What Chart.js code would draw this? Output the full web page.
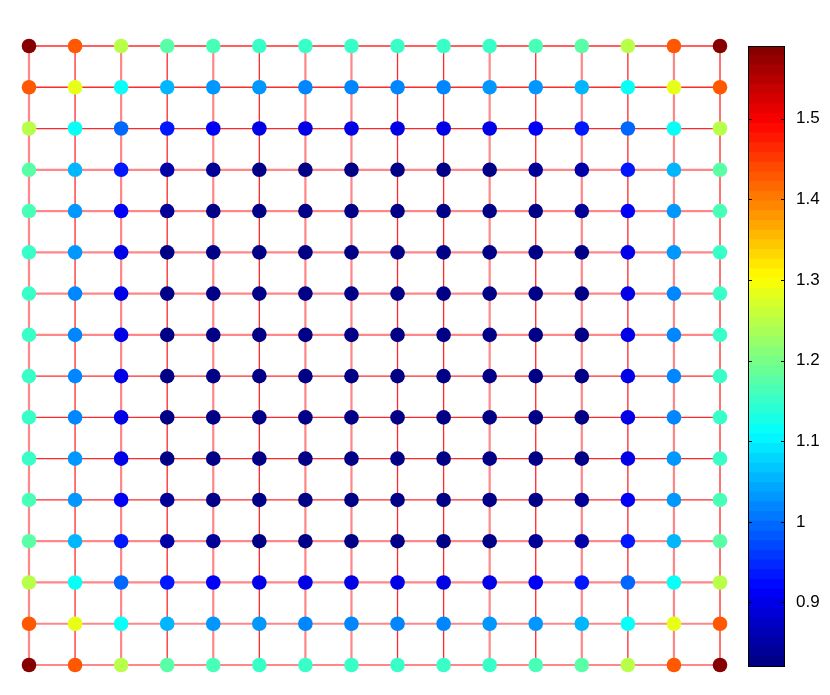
<!DOCTYPE html>
<html>
<head>
<meta charset="utf-8">
<script src="https://cdn.jsdelivr.net/npm/chart.js@4"></script>
<style>
  body { margin: 0; background: #fff; }
  #wrap { position: relative; width: 830px; height: 695px; }
  #gridBox { position: absolute; left: 0; top: 0; width: 740px; height: 695px; }
  #barBox { position: absolute; left: 700px; top: 0; width: 130px; height: 695px; }
</style>
</head>
<body>
<div id="wrap">
  <div id="gridBox"><canvas id="grid"></canvas></div>
  <div id="barBox"><canvas id="cbar"></canvas></div>
</div>
<script>
// values at each node of the 16x16 mesh, one row per array (top row first)
const row00 = [1.58, 1.43, 1.25, 1.17, 1.16, 1.15, 1.145, 1.145, 1.145, 1.145, 1.15, 1.16, 1.17, 1.25, 1.43, 1.58];
const row01 = [1.43, 1.28, 1.12, 1.05, 1.035, 1.025, 1.02, 1.02, 1.02, 1.02, 1.025, 1.035, 1.05, 1.12, 1.28, 1.43];
const row02 = [1.25, 1.12, 0.99, 0.93, 0.905, 0.90, 0.895, 0.895, 0.895, 0.895, 0.90, 0.905, 0.93, 0.99, 1.12, 1.25];
const row03 = [1.17, 1.05, 0.93, 0.855, 0.835, 0.828, 0.826, 0.826, 0.826, 0.826, 0.828, 0.835, 0.855, 0.93, 1.05, 1.17];
const row04 = [1.16, 1.035, 0.905, 0.835, 0.826, 0.824, 0.823, 0.823, 0.823, 0.823, 0.824, 0.826, 0.835, 0.905, 1.035, 1.16];
const row05 = [1.15, 1.025, 0.90, 0.828, 0.824, 0.823, 0.822, 0.822, 0.822, 0.822, 0.823, 0.824, 0.828, 0.90, 1.025, 1.15];
const row06 = [1.145, 1.02, 0.895, 0.826, 0.823, 0.822, 0.822, 0.822, 0.822, 0.822, 0.822, 0.823, 0.826, 0.895, 1.02, 1.145];
const row07 = [1.145, 1.02, 0.895, 0.826, 0.823, 0.822, 0.822, 0.822, 0.822, 0.822, 0.822, 0.823, 0.826, 0.895, 1.02, 1.145];
const row08 = [1.145, 1.02, 0.895, 0.826, 0.823, 0.822, 0.822, 0.822, 0.822, 0.822, 0.822, 0.823, 0.826, 0.895, 1.02, 1.145];
const row09 = [1.145, 1.02, 0.895, 0.826, 0.823, 0.822, 0.822, 0.822, 0.822, 0.822, 0.822, 0.823, 0.826, 0.895, 1.02, 1.145];
const row10 = [1.15, 1.025, 0.90, 0.828, 0.824, 0.823, 0.822, 0.822, 0.822, 0.822, 0.823, 0.824, 0.828, 0.90, 1.025, 1.15];
const row11 = [1.16, 1.035, 0.905, 0.835, 0.826, 0.824, 0.823, 0.823, 0.823, 0.823, 0.824, 0.826, 0.835, 0.905, 1.035, 1.16];
const row12 = [1.17, 1.05, 0.93, 0.855, 0.835, 0.828, 0.826, 0.826, 0.826, 0.826, 0.828, 0.835, 0.855, 0.93, 1.05, 1.17];
const row13 = [1.25, 1.12, 0.99, 0.93, 0.905, 0.90, 0.895, 0.895, 0.895, 0.895, 0.90, 0.905, 0.93, 0.99, 1.12, 1.25];
const row14 = [1.43, 1.28, 1.12, 1.05, 1.035, 1.025, 1.02, 1.02, 1.02, 1.02, 1.025, 1.035, 1.05, 1.12, 1.28, 1.43];
const row15 = [1.58, 1.43, 1.25, 1.17, 1.16, 1.15, 1.145, 1.145, 1.145, 1.145, 1.15, 1.16, 1.17, 1.25, 1.43, 1.58];

const colorMin = 0.82;
const colorMax = 1.59;
const colorTicks = [0.9, 1, 1.1, 1.2, 1.3, 1.4, 1.5];

const rows = [row00, row01, row02, row03, row04, row05, row06, row07,
              row08, row09, row10, row11, row12, row13, row14, row15];

// mesh line look: strong red or faint pink
const rowLook = 'rrrppppprrrrpppp';
const colLook = 'prprprpprrprprpr';

// matlab style jet, 64 steps
function jet(v) {
    let idx = Math.floor((v - colorMin) / (colorMax - colorMin) * 64);
    idx = Math.max(0, Math.min(63, idx));
    const t = (idx + 0.5) / 64;
    const c = x => Math.round(255 * Math.max(0, Math.min(1, 1.5 - Math.abs(x))));
    return 'rgb(' + c(4 * t - 3) + ',' + c(4 * t - 2) + ',' + c(4 * t - 1) + ')';
}

function lineStyle(ch) {
    return ch === 'r'
        ? { borderColor: 'rgba(255, 30, 30, 0.95)', borderWidth: 1.3 }
        : { borderColor: 'rgba(255, 105, 105, 0.8)', borderWidth: 2.2 };
}

const points = [];
const pointColors = [];
rows.forEach((row, r) => {
    row.forEach((v, c) => {
        points.push({ x: c, y: r });
        pointColors.push(jet(v));
    });
});

const datasets = [{
    type: 'scatter',
    data: points,
    backgroundColor: pointColors,
    borderWidth: 0,
    pointRadius: 7.3,
    pointHoverRadius: 7.3,
    order: 0,
    clip: false
}];

rows.forEach((row, r) => {
    datasets.push(Object.assign({
        type: 'line',
        data: row.map((v, c) => ({ x: c, y: r })),
        pointRadius: 0,
        order: 1,
        clip: false
    }, lineStyle(rowLook[r])));
});
for (let c = 0; c < 16; c++) {
    datasets.push(Object.assign({
        type: 'line',
        data: rows.map((row, r) => ({ x: c, y: r })),
        pointRadius: 0,
        order: 1,
        clip: false
    }, lineStyle(colLook[c])));
}

const meshChart = new Chart(document.getElementById('grid'), {
    type: 'scatter',
    data: { datasets: datasets },
    options: {
        responsive: true,
        maintainAspectRatio: false,
        animation: false,
        layout: { padding: { left: 29, right: 20, top: 46, bottom: 30 } },
        plugins: { legend: { display: false }, tooltip: { enabled: false } },
        scales: {
            x: { type: 'linear', min: 0, max: 15, display: false },
            y: { type: 'linear', min: 0, max: 15, reverse: true, display: false }
        }
    }
});

// colour bar
const step = (colorMax - colorMin) / 64;
const barSets = [];
for (let i = 0; i < 64; i++) {
    const lo = colorMin + i * step;
    barSets.push({
        data: [[lo, lo + step + 0.0005]],
        backgroundColor: jet(lo + step / 2),
        borderWidth: 0,
        grouped: false,
        barPercentage: 1,
        categoryPercentage: 1
    });
}

const frame = {
    id: 'frame',
    afterDraw(chart) {
        const ctx = chart.ctx;
        const a = chart.chartArea;
        const y = chart.scales.y;
        ctx.save();
        ctx.strokeStyle = '#000';
        ctx.lineWidth = 1;
        ctx.strokeRect(a.left + 0.5, a.top + 0.5, a.right - a.left - 1, a.bottom - a.top - 1);
        colorTicks.forEach(t => {
            const py = Math.round(y.getPixelForValue(t)) + 0.5;
            ctx.beginPath();
            ctx.moveTo(a.left, py); ctx.lineTo(a.left + 4, py);
            ctx.moveTo(a.right - 4, py); ctx.lineTo(a.right, py);
            ctx.stroke();
        });
        ctx.restore();
    }
};

const barChart = new Chart(document.getElementById('cbar'), {
    type: 'bar',
    data: { labels: [''], datasets: barSets },
    options: {
        responsive: true,
        maintainAspectRatio: false,
        animation: false,
        layout: { padding: { left: 48, right: 0, top: 46, bottom: 28 } },
        plugins: { legend: { display: false }, tooltip: { enabled: false } },
        scales: {
            x: { display: false },
            y: {
                position: 'right',
                min: colorMin,
                max: colorMax,
                afterBuildTicks: axis => { axis.ticks = colorTicks.map(v => ({ value: v })); },
                afterFit: axis => { axis.width = 45; },
                grid: { display: false },
                border: { display: false },
                ticks: {
                    color: '#000',
                    padding: 3,
                    font: { family: 'Liberation Sans, Arial, sans-serif', size: 17 },
                    callback: v => String(v)
                }
            }
        }
    },
    plugins: [frame]
});
</script>
</body>
</html>
